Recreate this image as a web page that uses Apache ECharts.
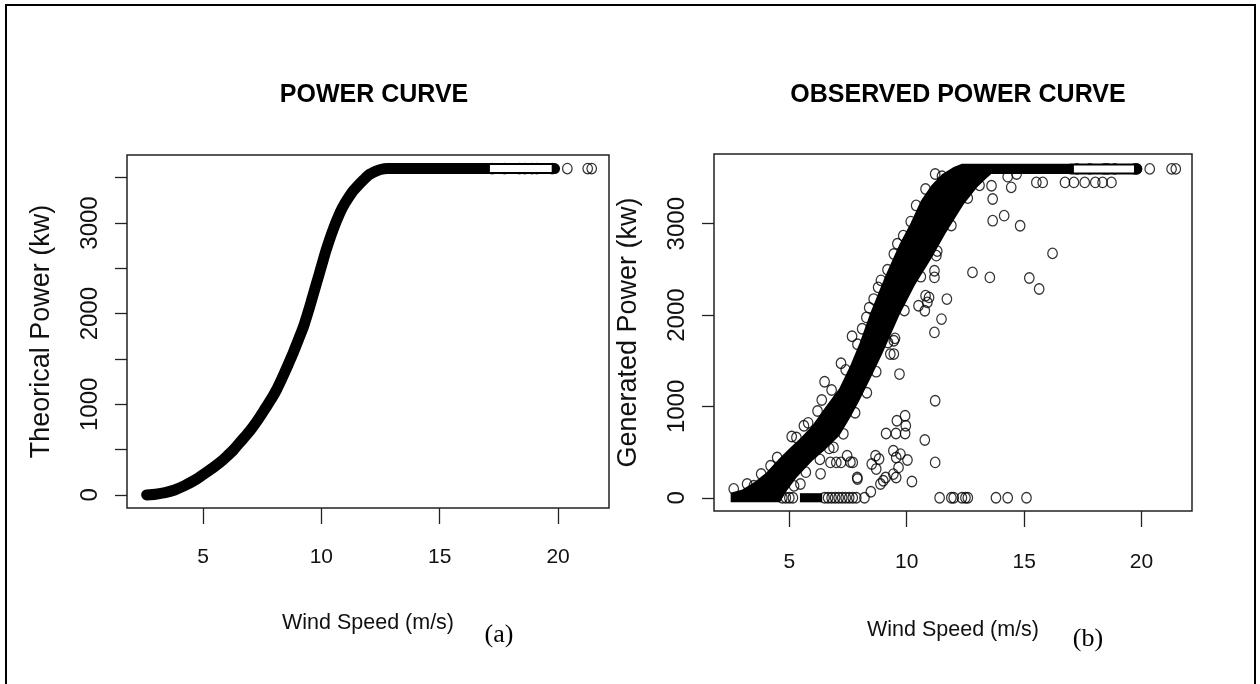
<!DOCTYPE html>
<html><head><meta charset="utf-8">
<script src="https://cdn.jsdelivr.net/npm/echarts@6/dist/echarts.min.js"></script>
<style>html,body{margin:0;padding:0;background:#fff}#c{width:1260px;height:684px}</style>
</head><body><div id="c"></div>
<script>
// ---------- data ----------
const xTicks = [5, 10, 15, 20];
const yTicksA = [0, 500, 1000, 1500, 2000, 2500, 3000, 3500];
const yLabelsA = [0, 1000, 2000, 3000];
const yTicksB = [0, 1000, 2000, 3000];

// (a) theoretical power curve (dense points, read along the band)
const theoWind  = [2.62, 3.0, 3.4, 3.8, 4.2, 4.6, 4.87, 5.15, 5.45, 5.75, 6.0, 6.3, 6.56, 6.85, 7.12, 7.4, 7.62, 7.9, 8.11, 8.3, 8.5, 8.65, 8.81, 8.95, 9.1, 9.25, 9.37, 9.5, 9.6, 9.7, 9.8, 9.9, 10.0, 10.2, 10.5, 10.8, 11.0, 11.3, 11.5, 11.8, 12.0, 12.3, 12.5, 12.8, 13.0, 14.0, 15.0, 16.0, 17.03];
const theoPower = [0, 8, 25, 55, 100, 155, 200, 250, 305, 365, 424, 500, 580, 666, 756, 860, 950, 1065, 1162, 1265, 1380, 1470, 1568, 1660, 1760, 1860, 1960, 2070, 2160, 2250, 2340, 2430, 2520, 2700, 2930, 3120, 3220, 3340, 3400, 3480, 3530, 3570, 3590, 3600, 3600, 3600, 3600, 3600, 3600];
const theoTubeWind = [17.0, 19.85];
const theoTubePower = [3600, 3600];
const theoTailWind = [17.22, 17.74, 18.37, 18.59, 18.9, 19.1, 19.75, 20.39, 21.25, 21.42];
const theoTailPower = [3600, 3600, 3600, 3600, 3600, 3600, 3600, 3600, 3600, 3600];

// (b) observed: dense band outline (upper edge left->right, lower edge right->left)
const bandUpWind   = [2.5, 3.0, 3.5, 4.0, 4.57, 5.0, 5.5, 6.0, 6.5, 7.13, 7.6, 8.0, 8.46, 9.08, 9.69, 10.15, 10.6, 11.05, 11.5, 12.0, 12.35, 17.0];
const bandUpPower  = [55, 90, 170, 270, 430, 540, 660, 800, 980, 1200, 1450, 1700, 2030, 2424, 2775, 3000, 3250, 3420, 3540, 3620, 3655, 3655];
const bandLowWind  = [17.0, 13.6, 13.34, 13.0, 12.42, 11.65, 11.05, 10.35, 9.69, 8.96, 8.5, 7.98, 7.6, 7.13, 6.5, 5.98, 5.3, 4.9, 4.6, 2.5];
const bandLowPower = [3545, 3545, 3483, 3400, 3209, 2892, 2618, 2330, 2000, 1577, 1330, 1062, 880, 680, 520, 405, 220, 80, -50, -50];
// solid run of zero-power readings
const zeroBlockWind  = [5.45, 6.4, 6.4, 5.45];
const zeroBlockPower = [-50, -50, 50, 50];

// (b) individual observed circles
const obsWind  = [2.63, 3.49, 4.48, 5.1, 5.62, 6.38, 6.5, 7.2, 7.67, 8.28, 8.59, 8.78, 9.18, 9.45, 9.85, 10.17, 11.21,
  13.61, 13.66, 14.45, 14.3, 14.68, 13.66, 14.15, 14.83, 15.52, 15.79, 16.74, 17.12, 17.58, 18.03, 18.34, 18.72,
  16.21, 12.8, 13.54, 15.22, 15.64, 11.71, 11.26, 11.18, 11.18, 10.95, 10.8, 10.88, 10.5, 10.77, 11.48, 11.18,
  9.5, 9.69, 11.21, 9.93, 9.58, 9.96, 9.12, 9.54, 9.93, 10.77, 11.21, 8.67, 8.51, 8.82, 8.7, 9.43, 9.55, 9.73,
  10.03, 9.65, 9.55, 9.43, 10.22, 8.88, 9.0, 9.1, 8.47, 7.9, 6.75, 7.0, 7.2, 7.46, 7.6, 7.7, 7.89, 6.33, 6.88,
  6.0, 5.47, 9.45, 9.3, 9.45, 9.1,
  3.2, 3.8, 4.2, 5.3, 5.8, 6.2, 6.8, 7.4, 7.9, 8.1, 8.4, 8.9, 9.6, 10.4, 10.8, 11.5,
  5.2, 5.7, 6.3, 6.7, 7.3, 7.8, 8.3, 8.7, 9.2, 9.9, 10.6, 11.3, 11.9, 12.6, 13.1];
const obsPower = [97, 131, 441, 670, 788, 1070, 1270, 1473, 1768, 1974, 2175, 2303, 2496, 2668, 2869, 3023, 3544,
  3416, 3270, 3398, 3515, 3544, 3033, 3088, 2978, 3452, 3452, 3452, 3452, 3452, 3452, 3452, 3452,
  2675, 2467, 2412, 2405, 2285, 2175, 2650, 2485, 2412, 2193, 2212, 2139, 2102, 2047, 1956, 1810,
  1745, 1354, 1062, 898, 843, 788, 704, 704, 704, 632, 387, 460, 369, 424, 314, 515, 441, 478,
  413, 332, 222, 259, 178, 150, 186, 222, 66, 205, 387, 387, 387, 460, 390, 387, 222, 262, 551,
  551, 150, 1719, 1573, 1573, 1850,
  150, 260, 350, 660, 820, 950, 1180, 1400, 1680, 1850, 2080, 2380, 2780, 3200, 3380, 3520,
  130, 280, 420, 540, 700, 930, 1150, 1380, 1700, 2050, 2420, 2700, 2980, 3280, 3420];
const obsZeroWind = [4.7, 4.85, 5.0, 5.15, 6.5, 6.65, 6.8, 6.95, 7.1, 7.25, 7.4, 7.55, 7.7, 7.85, 8.2,
  11.4, 11.9, 12.0, 12.35, 12.5, 12.6, 13.8, 14.3, 15.1];
const obsTubeWind = [17.0, 19.8];
const obsTubePower = [3600, 3600];
const obsRatedWind = [17.25, 17.8, 18.42, 18.56, 18.86, 19.72, 19.8, 20.35, 21.28, 21.46];

// ---------- chart ----------
const zip = (a, b) => a.map((v, i) => [v, b[i]]);
const H = "'Liberation Sans',Arial,sans-serif";
const circle = { symbol: 'circle', symbolSize: [9.5, 10.5], itemStyle: { color: 'rgba(0,0,0,0)', borderColor: '#000', borderWidth: 1.3 } };
const plain = v => String(v);

function xAxisCfg(g, margin, nameGap) {
  return { gridIndex: g, type: 'value', min: 1.79, max: 22.15,
    axisLine: { show: false, onZero: false },
    axisTick: { show: true, inside: false, length: 16, customValues: xTicks, lineStyle: { color: '#222', width: 1.3 } },
    axisLabel: { customValues: xTicks, formatter: plain, margin: margin, fontSize: 21, fontFamily: H, color: '#111' },
    splitLine: { show: false },
    name: 'Wind Speed (m/s)', nameLocation: 'middle', nameGap: nameGap,
    nameTextStyle: { fontSize: 21.5, fontFamily: H, color: '#111' } };
}
function yAxisCfg(g, min, max, ticks, labels, name) {
  return { gridIndex: g, type: 'value', min: min, max: max,
    axisLine: { show: false, onZero: false },
    axisTick: { show: true, inside: false, length: 12, customValues: ticks, lineStyle: { color: '#222', width: 1.3 } },
    axisLabel: { customValues: labels, formatter: plain, rotate: 90, margin: 25, fontSize: 24, fontFamily: H, color: '#111' },
    splitLine: { show: false },
    name: name, nameLocation: 'middle', nameGap: 72,
    nameTextStyle: { fontSize: 27, fontFamily: H, color: '#111' } };
}
const bandWind = bandUpWind.concat(bandLowWind);
const bandPower = bandUpPower.concat(bandLowPower);
const polys = [[bandWind, bandPower], [zeroBlockWind, zeroBlockPower]];

const option = {
  animation: false,
  backgroundColor: '#fff',
  title: [
    { text: 'POWER CURVE', left: 369, top: 78, textAlign: 'center', textStyle: { fontSize: 25, fontWeight: 'bold', fontFamily: H, color: '#000' } },
    { text: 'OBSERVED POWER CURVE', left: 953, top: 78, textAlign: 'center', textStyle: { fontSize: 25, fontWeight: 'bold', fontFamily: H, color: '#000' } }
  ],
  grid: [
    { left: 127, top: 155, width: 482, height: 353, show: true, borderColor: '#222', borderWidth: 1.5 },
    { left: 714, top: 154, width: 478, height: 357, show: true, borderColor: '#222', borderWidth: 1.5 }
  ],
  xAxis: [xAxisCfg(0, 39, 104), xAxisCfg(1, 41, 108)],
  yAxis: [yAxisCfg(0, -144, 3750, yTicksA, yLabelsA, 'Theorical Power (kw)'),
          yAxisCfg(1, -145, 3763, yTicksB, yTicksB, 'Generated Power (kw)')],
  graphic: [
    { type: 'rect', shape: { x: 6, y: 5, width: 1249, height: 690 }, style: { fill: 'none', stroke: '#000', lineWidth: 2 }, silent: true },
    { type: 'text', x: 499, y: 635, style: { text: '(a)', fontSize: 26, fontFamily: "'Liberation Serif','Times New Roman',serif", fill: '#000', align: 'center', verticalAlign: 'middle' } },
    { type: 'text', x: 1088, y: 639, style: { text: '(b)', fontSize: 26, fontFamily: "'Liberation Serif','Times New Roman',serif", fill: '#000', align: 'center', verticalAlign: 'middle' } }
  ],
  series: [
    { type: 'line', xAxisIndex: 0, yAxisIndex: 0, data: zip(theoWind, theoPower), symbol: 'none', silent: true, smooth: 0.2,
      lineStyle: { color: '#000', width: 11, cap: 'round', join: 'round' } },
    { type: 'line', xAxisIndex: 0, yAxisIndex: 0, data: zip(theoTubeWind, theoTubePower), symbol: 'none', silent: true,
      lineStyle: { color: '#000', width: 11, cap: 'round' } },
    { type: 'line', xAxisIndex: 0, yAxisIndex: 0, data: zip(theoTubeWind, theoTubePower).map((p, i) => [p[0] + (i ? -0.12 : 0.12), p[1]]), symbol: 'none', silent: true,
      lineStyle: { color: '#fff', width: 7 } },
    Object.assign({ type: 'scatter', xAxisIndex: 0, yAxisIndex: 0, data: zip(theoTailWind, theoTailPower), silent: true }, circle),

    { type: 'custom', xAxisIndex: 1, yAxisIndex: 1, data: polys.map(p => [p[0][0], p[1][0]]), silent: true, clip: true,
      renderItem: function (params, api) {
        const poly = polys[params.dataIndex];
        const pts = poly[0].map((w, i) => api.coord([w, poly[1][i]]));
        return { type: 'polygon', shape: { points: pts }, style: { fill: '#000' } };
      } },
    { type: 'line', xAxisIndex: 1, yAxisIndex: 1, data: zip(obsTubeWind, obsTubePower), symbol: 'none', silent: true,
      lineStyle: { color: '#000', width: 11, cap: 'round' } },
    { type: 'line', xAxisIndex: 1, yAxisIndex: 1, data: zip(obsTubeWind, obsTubePower).map((p, i) => [p[0] + (i ? -0.12 : 0.12), p[1]]), symbol: 'none', silent: true,
      lineStyle: { color: '#fff', width: 7 } },
    Object.assign({ type: 'scatter', xAxisIndex: 1, yAxisIndex: 1, data: zip(obsWind, obsPower), silent: true }, circle),
    Object.assign({ type: 'scatter', xAxisIndex: 1, yAxisIndex: 1, data: obsZeroWind.map(w => [w, 0]), silent: true }, circle),
    Object.assign({ type: 'scatter', xAxisIndex: 1, yAxisIndex: 1, data: obsRatedWind.map(w => [w, 3600]), silent: true }, circle)
  ]
};
const chart = echarts.init(document.getElementById('c'));
chart.setOption(option);
</script>
</body></html>
